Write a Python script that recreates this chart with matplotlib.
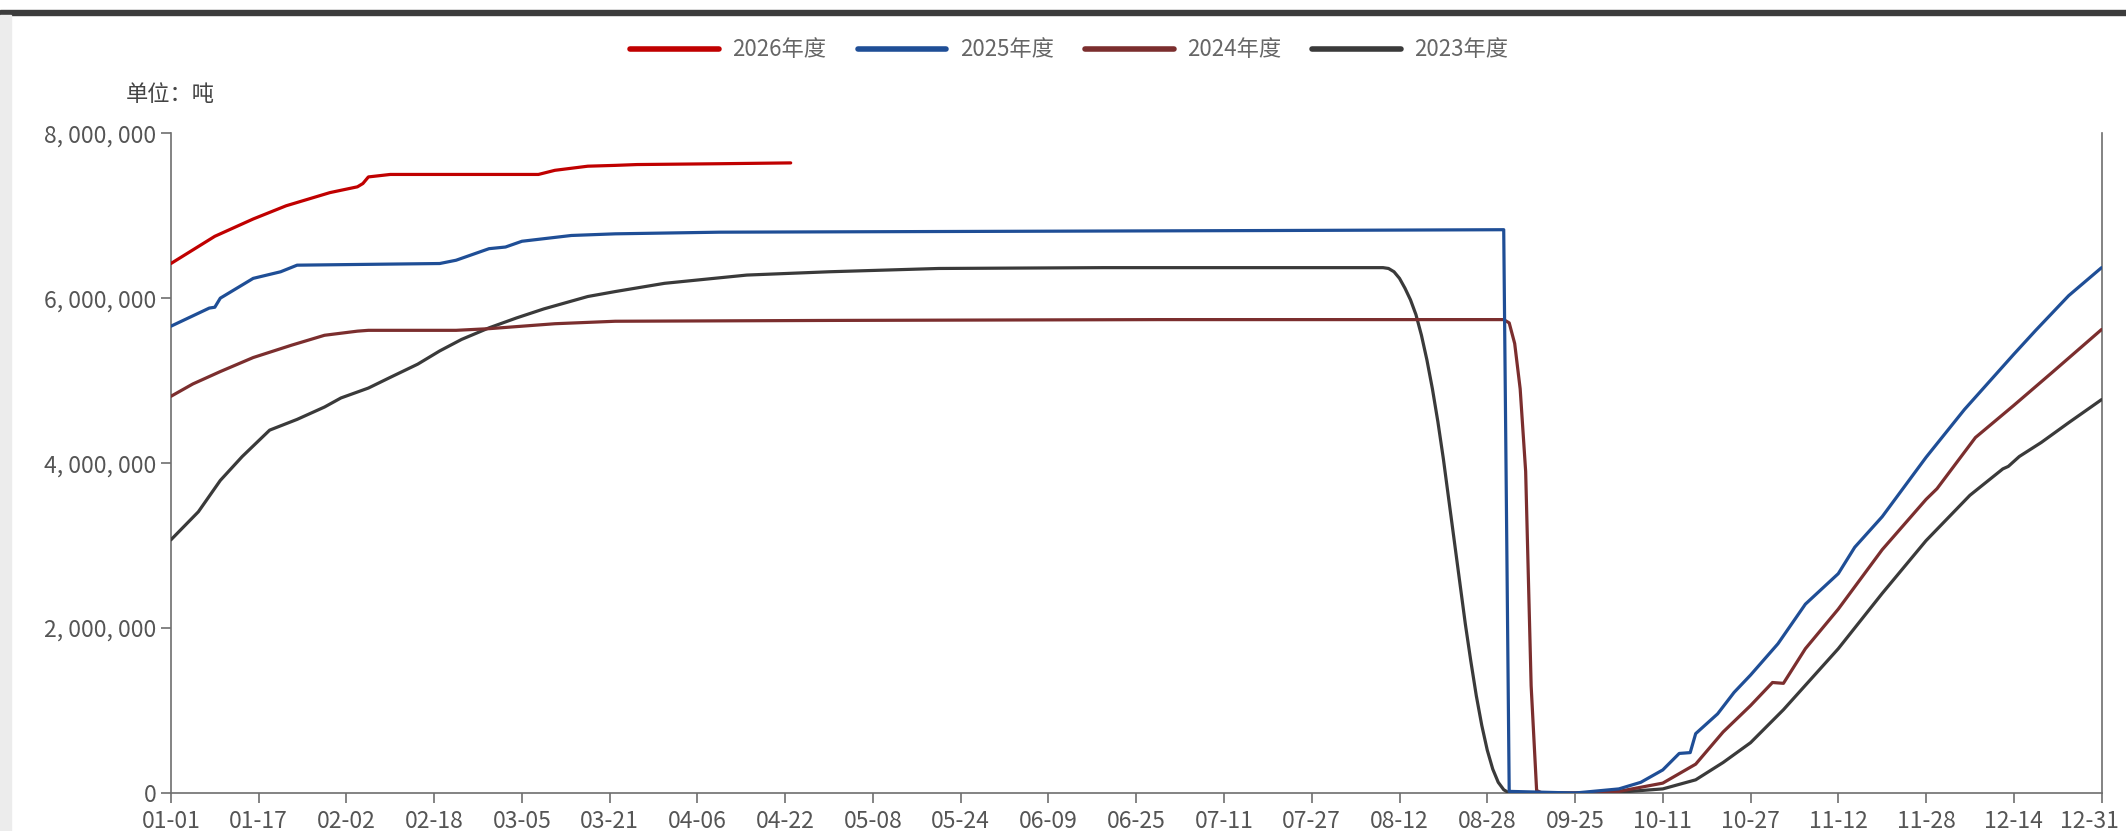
import numpy as np
import matplotlib.pyplot as plt
import matplotlib.transforms as mtransforms
from matplotlib.lines import Line2D
from matplotlib.patches import Rectangle
from matplotlib.ticker import FuncFormatter

plt.rcParams['font.family'] = ['Noto Sans CJK SC', 'DejaVu Sans']

# category axis: one tick every 16 points
tick_labels = ['01-01', '01-17', '02-02', '02-18', '03-05', '03-21', '04-06', '04-22',
               '05-08', '05-24', '06-09', '06-25', '07-11', '07-27', '08-12', '08-28',
               '09-25', '10-11', '10-27', '11-12', '11-28', '12-14', '12-31']

# 2026 season (values in tonnes)
idx_2026 = [0, 8, 15, 21, 29, 34, 35, 36, 40, 67, 70, 76, 81, 85, 100, 113]
val_2026 = [6.42e6, 6.75e6, 6.96e6, 7.12e6, 7.28e6, 7.35e6, 7.39e6, 7.47e6, 7.50e6,
            7.50e6, 7.55e6, 7.60e6, 7.61e6, 7.62e6, 7.63e6, 7.64e6]

# 2025 season
idx_2025 = [0, 7, 8, 9, 15, 20, 23, 49, 52, 58, 61, 64, 73, 81, 100, 150, 200, 243, 244,
            256, 264, 268, 272, 275, 277, 278, 282, 285, 288, 293, 298, 304, 307, 312,
            320, 327, 336, 340, 346, 352]
val_2025 = [5.66e6, 5.88e6, 5.89e6, 6.00e6, 6.24e6, 6.32e6, 6.40e6, 6.42e6, 6.46e6, 6.60e6,
            6.62e6, 6.69e6, 6.76e6, 6.78e6, 6.80e6, 6.81e6, 6.82e6, 6.83e6, 0.02e6,
            0.0, 0.05e6, 0.13e6, 0.28e6, 0.48e6, 0.49e6, 0.72e6, 0.96e6, 1.22e6, 1.43e6,
            1.81e6, 2.29e6, 2.66e6, 2.98e6, 3.35e6, 4.07e6, 4.65e6, 5.32e6, 5.61e6,
            6.03e6, 6.37e6]

# 2024 season
idx_2024 = [0, 4, 9, 15, 22, 28, 34, 36, 52, 58, 70, 81, 120, 180, 243, 244, 245, 246,
            247, 248, 249, 250, 256, 264, 272, 278, 283, 288, 292, 294, 298, 304, 312,
            320, 322, 329, 336, 343, 352]
val_2024 = [4.81e6, 4.96e6, 5.11e6, 5.28e6, 5.43e6, 5.55e6, 5.60e6, 5.61e6, 5.61e6, 5.63e6,
            5.69e6, 5.72e6, 5.73e6, 5.74e6, 5.74e6, 5.70e6, 5.45e6, 4.90e6, 3.90e6,
            1.30e6, 0.03e6, 0.0, 0.0, 0.02e6, 0.12e6, 0.35e6, 0.74e6, 1.06e6, 1.34e6,
            1.33e6, 1.75e6, 2.23e6, 2.95e6, 3.56e6, 3.69e6, 4.31e6, 4.70e6, 5.10e6, 5.62e6]

# 2023 season
idx_2023 = [0, 5, 9, 13, 18, 23, 28, 31, 36, 40, 45, 49, 53, 58, 63, 68, 76, 81, 90, 105,
            120, 140, 170, 200, 221, 222, 223, 224, 225, 226, 227, 228, 229, 230, 231,
            232, 233, 234, 235, 236, 237, 238, 239, 240, 241, 242, 243, 244,
            256, 264, 272, 278, 283, 288, 294, 304, 312, 320, 328, 334, 335, 337, 341,
            346, 352]
val_2023 = [3.07e6, 3.41e6, 3.79e6, 4.08e6, 4.40e6, 4.53e6, 4.68e6, 4.79e6, 4.91e6, 5.04e6,
            5.20e6, 5.36e6, 5.50e6, 5.64e6, 5.76e6, 5.87e6, 6.02e6, 6.08e6, 6.18e6, 6.28e6,
            6.32e6, 6.36e6, 6.37e6, 6.37e6, 6.37e6, 6.36e6, 6.32e6, 6.24e6, 6.12e6,
            5.98e6, 5.80e6, 5.55e6, 5.25e6, 4.90e6, 4.50e6, 4.05e6, 3.55e6, 3.05e6,
            2.55e6, 2.05e6, 1.60e6, 1.18e6, 0.82e6, 0.52e6, 0.29e6, 0.13e6, 0.04e6, 0.0,
            0.0, 0.01e6, 0.05e6, 0.16e6, 0.37e6, 0.61e6, 1.01e6, 1.75e6, 2.42e6, 3.06e6,
            3.61e6, 3.93e6, 3.96e6, 4.08e6, 4.25e6, 4.49e6, 4.77e6]

series = [
    ('2026年度', idx_2026, val_2026, '#C00000'),
    ('2025年度', idx_2025, val_2025, '#1F4E96'),
    ('2024年度', idx_2024, val_2024, '#7B2E2E'),
    ('2023年度', idx_2023, val_2023, '#3A3A3A'),
]

fig = plt.figure(figsize=(21.26, 8.31), dpi=100)
ax = fig.add_axes([0.0804, 0.0457, 0.9081, 0.794])

# draw oldest first so newer seasons sit on top
for name, idx, val, color in reversed(series):
    ax.plot(idx, val, color=color, lw=2.3, solid_capstyle='round',
            solid_joinstyle='round', zorder=3)

n_last = 16 * (len(tick_labels) - 1)
ax.set_xlim(0, n_last)
ax.set_ylim(0, 8e6)
ax.set_xticks(np.arange(0, n_last + 1, 16))
ax.set_xticklabels(tick_labels)
ax.set_yticks(np.arange(0, 8e6 + 1, 2e6))
ax.yaxis.set_major_formatter(FuncFormatter(lambda v, p: f'{int(v):,}'.replace(',', ', ')))

grey = '#6E6E6E'
for side in ['left', 'bottom', 'right']:
    ax.spines[side].set_color(grey)
    ax.spines[side].set_linewidth(1.2)
ax.spines['top'].set_visible(False)
ax.tick_params(axis='both', colors=grey, labelcolor='#555555', labelsize=16.5,
               length=7, width=1.2, direction='out')
ax.tick_params(axis='x', pad=5)

# last label sits at the right edge; nudge it left just enough to stay inside
last = ax.get_xticklabels()[-1]
last.set_transform(last.get_transform() +
                   mtransforms.ScaledTranslation(-9 / 72, 0, fig.dpi_scale_trans))

# legend along the top
handles = [Line2D([0], [0], color=c, lw=4, solid_capstyle='round') for _, _, _, c in series]
fig.legend(handles, [s[0] for s in series], loc='center', bbox_to_anchor=(0.503, 0.94),
           ncol=4, frameon=False, fontsize=16, handlelength=4.0, columnspacing=1.4,
           handletextpad=0.6, labelcolor='#666666')

fig.text(0.059, 0.886, '单位：吨', fontsize=16, color='#444444', va='center')

# dark rule at the top and grey strip on the left
fig.patches.append(Rectangle((0, 0.982), 1, 0.006, transform=fig.transFigure,
                             color='#3C3C3C', zorder=0))
fig.patches.append(Rectangle((0, 0), 0.005, 0.982, transform=fig.transFigure,
                             color='#ECECEC', zorder=0))

fig.savefig('out.png', dpi=100)
